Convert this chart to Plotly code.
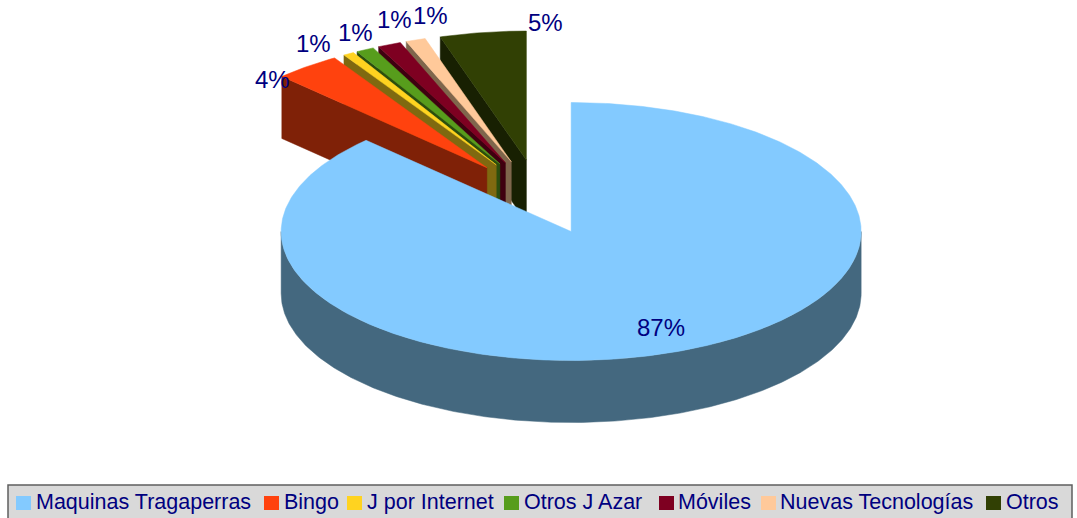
import math
import plotly.graph_objects as go

categories = ["Maquinas Tragaperras", "Bingo", "J por Internet", "Otros J Azar", "Móviles", "Nuevas Tecnologías", "Otros"]
shares = [87.5, 3.7, 0.6, 1.0, 1.3, 1.1, 4.8]
pct_labels = ["87%", "4%", "1%", "1%", "1%", "1%", "5%"]

top_colors = ["#83CAFF", "#FF420E", "#FFD320", "#579D1C", "#7E0021", "#FFC99A", "#314004"]
wall_colors = ["#44687F", "#7F2107", "#7F6910", "#2B4E0E", "#3F0010", "#7F664C", "#182002"]

# Layout of the simulated 3-D pie, in page pixels
CX, CY, RX, RY, DEPTH, EXPLODE = 539.0, 197.0, 290.0, 129.0, 62.0, 84.0
label_xy = [(661, 327), (272, 79), (313, 43), (355, 32), (394, 19), (430, 15), (545, 22)]
swatch_x = [16, 264, 347, 504, 659, 761, 986]
text_x = [34, 282, 365, 522, 676, 778, 1004]

total = sum(shares)
spans = []
acc = 0.0
for v in shares:
    spans.append((acc / total * 2 * math.pi, (acc + v) / total * 2 * math.pi))
    acc += v


def pt(c, a):
    return c[0] + RX * math.sin(a), c[1] - RY * math.cos(a)


def arc(c, a0, a1, dy=0.0):
    n = max(3, int(abs(a1 - a0) / 0.01))
    out = []
    for i in range(n + 1):
        x, y = pt(c, a0 + (a1 - a0) * i / n)
        out.append((x, y + dy))
    return out


def apex(a0, a1):
    m = (a0 + a1) / 2
    return CX + EXPLODE * math.sin(m), CY - EXPLODE * RY / RX * math.cos(m)


fig = go.Figure()


def poly(points, color, name):
    fig.add_trace(go.Scatter(
        x=[p[0] for p in points] + [points[0][0]],
        y=[p[1] for p in points] + [points[0][1]],
        mode="lines", fill="toself", fillcolor=color,
        line=dict(color=color, width=0.5), name=name,
        hoverinfo="name", showlegend=False))


# small slices, back to front
for i in range(len(shares) - 1, 0, -1):
    a0, a1 = spans[i]
    c = apex(a0, a1)
    tip = pt(c, a0)
    poly([tip, c, (c[0], c[1] + DEPTH), (tip[0], tip[1] + DEPTH)], wall_colors[i], categories[i])
    poly([c] + arc(c, a0, a1), top_colors[i], categories[i])

# main slice
a0, a1 = spans[0]
c = apex(a0, a1)
poly(arc(c, math.pi / 2, 3 * math.pi / 2) + arc(c, 3 * math.pi / 2, math.pi / 2, DEPTH), wall_colors[0], categories[0])
poly([c] + arc(c, a0, a1), top_colors[0], categories[0])

annotations = []
for t, (x, y) in zip(pct_labels, label_xy):
    annotations.append(dict(x=x, y=y, text=t, showarrow=False, xanchor="center", yanchor="middle",
                            font=dict(family="Liberation Sans", size=24, color="#000080")))

shapes = [dict(type="rect", x0=8, x1=1072, y0=485, y1=519, fillcolor="#D9D9D9",
               line=dict(color="#5F5F5F", width=1.5), layer="below")]
for i, name in enumerate(categories):
    shapes.append(dict(type="rect", x0=swatch_x[i], x1=swatch_x[i] + 15, y0=496, y1=510,
                       fillcolor=top_colors[i], line=dict(width=0), layer="above"))
    annotations.append(dict(x=text_x[i], y=502, text=name, showarrow=False, xanchor="left", yanchor="middle",
                            font=dict(family="Liberation Sans", size=21.5, color="#000080")))

fig.update_layout(
    width=1077, height=518,
    margin=dict(l=0, r=0, t=0, b=0),
    paper_bgcolor="white", plot_bgcolor="white",
    xaxis=dict(range=[0, 1077], visible=False, fixedrange=True),
    yaxis=dict(range=[518, 0], visible=False, fixedrange=True),
    annotations=annotations, shapes=shapes, showlegend=False)
fig.write_html("out.html", config={"displayModeBar": False},
               post_script="document.body.style.margin='0';document.documentElement.style.overflow='hidden';")
